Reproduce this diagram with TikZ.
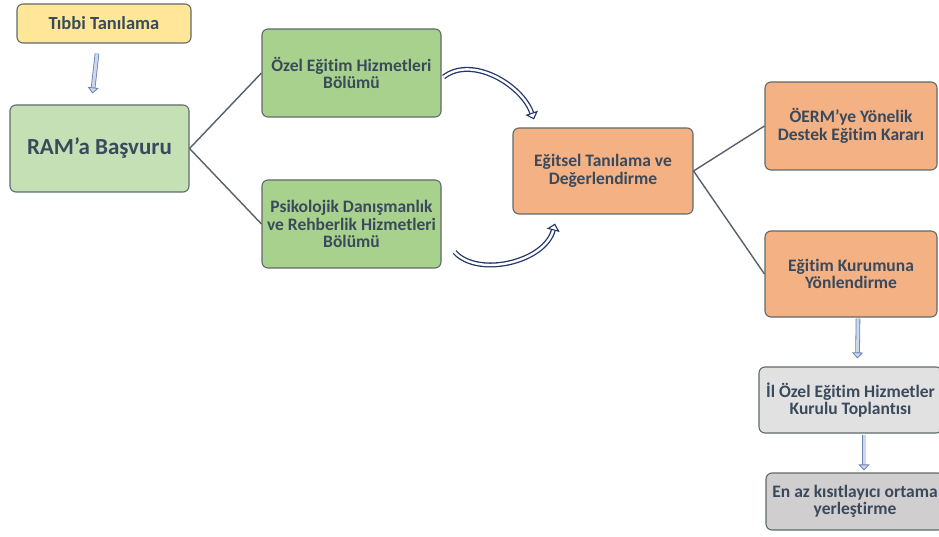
\documentclass[tikz,border=0pt]{standalone}
\usepackage{fontspec}
\setmainfont{Carlito}[Ligatures={NoCommon}]
\usetikzlibrary{arrows.meta}
\definecolor{txt}{HTML}{3A4A5C}
\definecolor{boxline}{HTML}{5F6A6A}
\definecolor{yel}{HTML}{FFE699}
\definecolor{lgreen}{HTML}{C5E0B4}
\definecolor{mgreen}{HTML}{A9D18E}
\definecolor{orng}{HTML}{F4B183}
\definecolor{lgray}{HTML}{E2E1E1}
\definecolor{mgray}{HTML}{D0CECE}
\definecolor{conn}{HTML}{56616C}
\definecolor{arrline}{HTML}{6A82B4}
\definecolor{arrfill}{HTML}{CDD7EB}
\definecolor{navy}{HTML}{22356A}
\begin{document}
\begin{tikzpicture}[x=1pt,y=-1pt,
  box/.style={draw=boxline, line width=1.1pt, rounded corners=6pt, align=center,
    text=txt, font=\bfseries\fontsize{17.5}{17.5}\selectfont, inner sep=0pt},
  conline/.style={draw=conn, line width=1.4pt},
  hollow/.style={draw=arrline, line width=0.8pt, double=arrfill, double distance=3pt,
    -{Triangle[length=6pt,width=11pt,fill=arrfill,line width=0.8pt]}},
  curvarr/.style={draw=navy, line width=1.3pt, double=white, double distance=2.4pt,
    -{Triangle[length=7pt,width=13pt,fill=white,line width=1.1pt]}}]
\clip (0,0) rectangle (939,537);
\fill[white] (0,0) rectangle (939,537);
\node[box, fill=yel, minimum width=174pt, minimum height=39pt, font=\bfseries\fontsize{18.5}{20}\selectfont] (tibbi) at (104,23.5) {Tıbbi Tanılama};
\node[box, fill=lgreen, minimum width=179pt, minimum height=87pt, font=\bfseries\fontsize{23}{26}\selectfont] (ram) at (99.5,148.5) {RAM'a Başvuru};
\node[box, fill=mgreen, minimum width=179pt, minimum height=88pt] (ozel) at (351.5,73) {Özel Eğitim Hizmetleri\\Bölümü};
\node[box, fill=mgreen, minimum width=179pt, minimum height=88pt] (psk) at (351.5,224) {Psikolojik Danışmanlık\\ve Rehberlik Hizmetleri\\Bölümü};
\node[box, fill=orng, minimum width=180pt, minimum height=86pt] (egitsel) at (603,171) {Eğitsel Tanılama ve\\Değerlendirme};
\node[box, fill=orng, minimum width=172pt, minimum height=88pt] (oerm) at (851,126) {ÖERM'ye Yönelik\\Destek Eğitim Kararı};
\node[box, fill=orng, minimum width=172pt, minimum height=86pt] (ekur) at (851,274) {Eğitim Kurumuna\\Yönlendirme};
\node[box, fill=lgray, minimum width=183pt, minimum height=66pt] (ilozel) at (850.5,400) {İl Özel Eğitim Hizmetler\\Kurulu Toplantısı};
\node[box, fill=mgray, minimum width=178pt, minimum height=57pt] (enaz) at (855,501.5) {En az kısıtlayıcı ortama\\yerleştirme};
% connectors
\draw[conline] (ram.east) -- (ozel.west);
\draw[conline] (ram.east) -- (psk.west);
\draw[conline] (egitsel.east) -- (oerm.west);
\draw[conline] (egitsel.east) -- (ekur.west);
% hollow vertical arrows
\draw[hollow] ([xshift=-7pt,yshift=-10pt]tibbi.south) -- ([xshift=-7pt,yshift=11pt]ram.north);
\draw[hollow] ([xshift=7pt,yshift=-1pt]ekur.south) -- ([xshift=7pt,yshift=8pt]ilozel.north);
\draw[hollow] ([xshift=13.5pt,yshift=-1pt]ilozel.south) -- ([xshift=9pt,yshift=2pt]enaz.north);
% curved arrows
\coordinate (t1) at ([xshift=2pt,yshift=-4pt]ozel.east);
\coordinate (h1) at ([xshift=-69pt,yshift=8pt]egitsel.north);
\draw[curvarr] (t1) .. controls (472,55) and (522,85) .. (h1);
\coordinate (t2) at ([xshift=13pt,yshift=-28pt]psk.east);
\coordinate (h2) at ([xshift=-48pt,yshift=-9pt]egitsel.south);
\draw[curvarr] (t2) .. controls (478,278) and (545,262) .. (h2);
\end{tikzpicture}
\end{document}
